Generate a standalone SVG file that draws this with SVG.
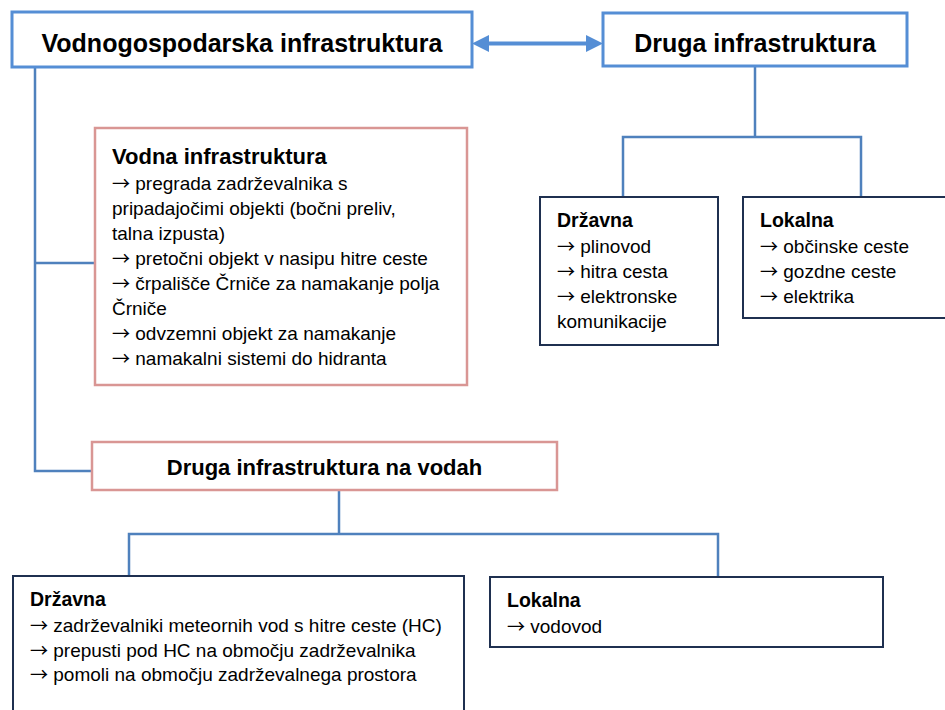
<svg xmlns="http://www.w3.org/2000/svg" width="945" height="710" viewBox="0 0 945 710">
<style>
  text { font-family: "Liberation Sans", Arial, sans-serif; fill: #000; }
  .h1 { font-size: 25px; font-weight: bold; text-anchor: middle; }
  .h2 { font-size: 22px; font-weight: bold; }
  .h3 { font-size: 19.5px; font-weight: bold; }
  .b { font-size: 19px; }
  .ar { font-family: "Noto Sans CJK SC", "DejaVu Sans", sans-serif; font-size: 18px; }
  .blue { fill: #fff; stroke: #558ED5; stroke-width: 3; }
  .pink { fill: #fff; stroke: #D99694; stroke-width: 2.5; }
  .navy { fill: #fff; stroke: #1F3050; stroke-width: 2; }
  .conn { fill: none; stroke: #4F81BD; stroke-width: 2.5; }
</style>
<rect width="945" height="710" fill="#fff"/>
<g id="connectors">
  <path class="conn" d="M35 67 V471 H92"/>
  <path class="conn" d="M35 263 H95"/>
  <path class="conn" d="M755 66 V137"/>
  <path class="conn" d="M623 197 V137 H861 V197"/>
  <path class="conn" d="M339 490 V534"/>
  <path class="conn" d="M129 576 V534 H718 V576"/>
  <g id="double-arrow" fill="#558ED5">
    <line x1="486" y1="43.5" x2="589" y2="43.5" stroke="#558ED5" stroke-width="4"/>
    <polygon points="472,43.5 489,35 489,52"/>
    <polygon points="603,43.5 586,35 586,52"/>
  </g>
</g>
<g id="vodnogospodarska">
  <rect class="blue" x="12" y="12" width="460" height="55"/>
  <text class="h1" x="242" y="52">Vodnogospodarska infrastruktura</text>
</g>
<g id="druga-infrastruktura">
  <rect class="blue" x="603" y="13" width="304" height="53"/>
  <text class="h1" x="755" y="52">Druga infrastruktura</text>
</g>
<g id="vodna-infrastruktura">
  <rect class="pink" x="95" y="128" width="372" height="257"/>
  <text class="h2" x="112" y="164">Vodna infrastruktura</text>
  <text class="b" x="112" y="190"><tspan class="ar">→</tspan> pregrada zadrževalnika s</text>
  <text class="b" x="112" y="215">pripadajočimi objekti (bočni preliv,</text>
  <text class="b" x="112" y="240">talna izpusta)</text>
  <text class="b" x="112" y="265"><tspan class="ar">→</tspan> pretočni objekt v nasipu hitre ceste</text>
  <text class="b" x="112" y="290"><tspan class="ar">→</tspan> črpališče Črniče za namakanje polja</text>
  <text class="b" x="112" y="315">Črniče</text>
  <text class="b" x="112" y="340"><tspan class="ar">→</tspan> odvzemni objekt za namakanje</text>
  <text class="b" x="112" y="365"><tspan class="ar">→</tspan> namakalni sistemi do hidranta</text>
</g>
<g id="drzavna-top">
  <rect class="navy" x="540" y="197" width="178" height="148"/>
  <text class="h3" x="557" y="227">Državna</text>
  <text class="b" x="557" y="253"><tspan class="ar">→</tspan> plinovod</text>
  <text class="b" x="557" y="278"><tspan class="ar">→</tspan> hitra cesta</text>
  <text class="b" x="557" y="303"><tspan class="ar">→</tspan> elektronske</text>
  <text class="b" x="557" y="328">komunikacije</text>
</g>
<g id="lokalna-top">
  <rect class="navy" x="743" y="197" width="215" height="121"/>
  <text class="h3" x="760" y="227">Lokalna</text>
  <text class="b" x="760" y="253"><tspan class="ar">→</tspan> občinske ceste</text>
  <text class="b" x="760" y="278"><tspan class="ar">→</tspan> gozdne ceste</text>
  <text class="b" x="760" y="303"><tspan class="ar">→</tspan> elektrika</text>
</g>
<g id="druga-na-vodah">
  <rect class="pink" x="92" y="442" width="465" height="48"/>
  <text class="h2" x="324.5" y="475" text-anchor="middle">Druga infrastruktura na vodah</text>
</g>
<g id="drzavna-bottom">
  <rect class="navy" x="13" y="576" width="451" height="150"/>
  <text class="h3" x="30" y="606">Državna</text>
  <text class="b" x="30" y="632"><tspan class="ar">→</tspan> zadrževalniki meteornih vod s hitre ceste (HC)</text>
  <text class="b" x="30" y="657"><tspan class="ar">→</tspan> prepusti pod HC na območju zadrževalnika</text>
  <text class="b" x="30" y="681"><tspan class="ar">→</tspan> pomoli na območju zadrževalnega prostora</text>
</g>
<g id="lokalna-bottom">
  <rect class="navy" x="490" y="577" width="393" height="70"/>
  <text class="h3" x="507" y="607">Lokalna</text>
  <text class="b" x="507" y="633"><tspan class="ar">→</tspan> vodovod</text>
</g>
</svg>
